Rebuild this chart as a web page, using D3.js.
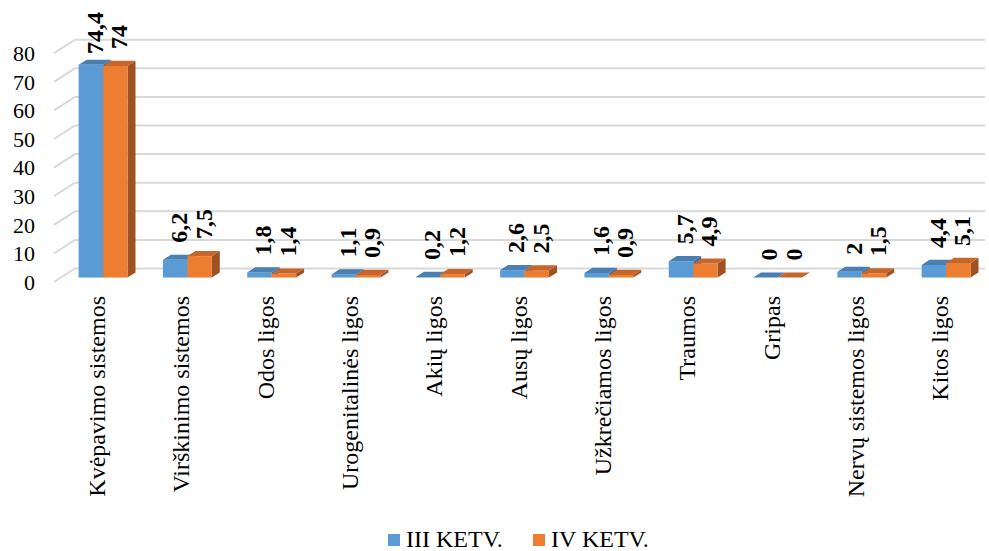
<!DOCTYPE html>
<html>
<head>
<meta charset="utf-8">
<script src="https://cdn.jsdelivr.net/npm/d3@7"></script>
<style>
  body { margin: 0; background: #fff; }
</style>
</head>
<body>
<div id="chart"></div>
<script>
// data
const categories = ['Kvėpavimo sistemos', 'Virškinimo sistemos', 'Odos ligos', 'Urogenitalinės ligos',
  'Akių ligos', 'Ausų ligos', 'Užkrečiamos ligos', 'Traumos', 'Gripas', 'Nervų sistemos ligos', 'Kitos ligos']
const q3Values = [74.4, 6.2, 1.8, 1.1, 0.2, 2.6, 1.6, 5.7, 0, 2, 4.4]
const q4Values = [74, 7.5, 1.4, 0.9, 1.2, 2.5, 0.9, 4.9, 0, 1.5, 5.1]
const seriesNames = ['III KETV.', 'IV KETV.']
const yTicks = [0, 10, 20, 30, 40, 50, 60, 70, 80]

const W = 989, H = 551
const FONT = 'Liberation Serif, DejaVu Serif, serif'
const colors = [
  { front: '#5b9bd5', top: '#4a7fb3', side: '#3f6f9e' },
  { front: '#ed7d31', top: '#c6662a', side: '#9f5221' }
]

// 3D geometry (front plane + depth vector)
const depthDx = 21, depthDy = -13.5
const barFrontFrac = 0.33, barDepthFrac = 0.38

const svg = d3.select('#chart').append('svg')
  .attr('width', W)
  .attr('height', H)
  .attr('font-family', FONT)

const y = d3.scaleLinear().domain([0, 80]).range([282, 53.2])

const x = d3.scaleBand()
  .domain(categories)
  .range([54, 54 + 11 * 84.3])
  .paddingInner(0.42)
  .paddingOuter(0.21)

const sub = d3.scaleBand().domain([0, 1]).range([0, x.bandwidth()])

/* gridlines: diagonal on side wall + horizontal on back wall */
const $grid = svg.append('g')
yTicks.forEach(t => {
  const fy = y(t)
  $grid.append('path')
    .attr('d', `M54,${fy} L${54 + depthDx},${fy + depthDy} L985,${fy + depthDy}`)
    .attr('fill', 'none')
    .attr('stroke', '#d9d9d9')
    .attr('stroke-width', 2)
})

/* y tick labels */
svg.append('g').selectAll('text')
  .data(yTicks)
  .join('text')
  .attr('x', 35)
  .attr('y', d => y(d))
  .attr('dy', '0.35em')
  .attr('text-anchor', 'end')
  .attr('font-size', 22)
  .text(d => d)

/* bars */
const sx = depthDx * barFrontFrac, sy = depthDy * barFrontFrac
const dx = depthDx * barDepthFrac, dy = depthDy * barDepthFrac
const $bars = svg.append('g')
const $labels = svg.append('g')
const fmt = v => String(v).replace('.', ',')

categories.forEach((cat, i) => {
  [q3Values[i], q4Values[i]].forEach((v, s) => {
    const c = colors[s]
    const x0 = x(cat) + sub(s) + sx
    const x1 = x0 + sub.bandwidth()
    const yb = y(0) + sy
    const yt = y(v) + sy
    const $g = $bars.append('g')
    // side
    $g.append('path')
      .attr('d', `M${x1},${yb} L${x1 + dx},${yb + dy} L${x1 + dx},${yt + dy} L${x1},${yt} Z`)
      .attr('fill', c.side)
    // front
    $g.append('rect')
      .attr('x', x0).attr('y', yt)
      .attr('width', x1 - x0).attr('height', yb - yt)
      .attr('fill', c.front)
    // top
    $g.append('path')
      .attr('d', `M${x0},${yt} L${x1},${yt} L${x1 + dx},${yt + dy} L${x0 + dx},${yt + dy} Z`)
      .attr('fill', c.top)

    // value label
    const cx = (x0 + x1) / 2 + 4
    const $t = $labels.append('text')
      .attr('font-size', 24)
      .attr('font-weight', 'bold')
      .attr('text-anchor', 'start')
      .attr('dominant-baseline', 'central')
      .text(fmt(v))
    const len = $t.node().getComputedTextLength()
    let bottom = yt - 17
    if (bottom - len < 12) bottom = 12 + len
    $t.attr('transform', `translate(${cx},${bottom}) rotate(-90)`)
  })
})

/* category labels */
svg.append('g').selectAll('text')
  .data(categories)
  .join('text')
  .attr('font-size', 24)
  .attr('text-anchor', 'end')
  .attr('dominant-baseline', 'central')
  .attr('transform', d => `translate(${x(d) + x.bandwidth() / 2 + 1},296) rotate(-90)`)
  .text(d => d)

/* legend */
const legendX = [388, 533]
const $legend = svg.append('g')
seriesNames.forEach((name, i) => {
  $legend.append('rect')
    .attr('x', legendX[i]).attr('y', 534)
    .attr('width', 12).attr('height', 12)
    .attr('fill', colors[i].front)
  $legend.append('text')
    .attr('x', legendX[i] + 18)
    .attr('y', 539)
    .attr('dy', '0.35em')
    .attr('font-size', 24)
    .text(name)
})
</script>
</body>
</html>
